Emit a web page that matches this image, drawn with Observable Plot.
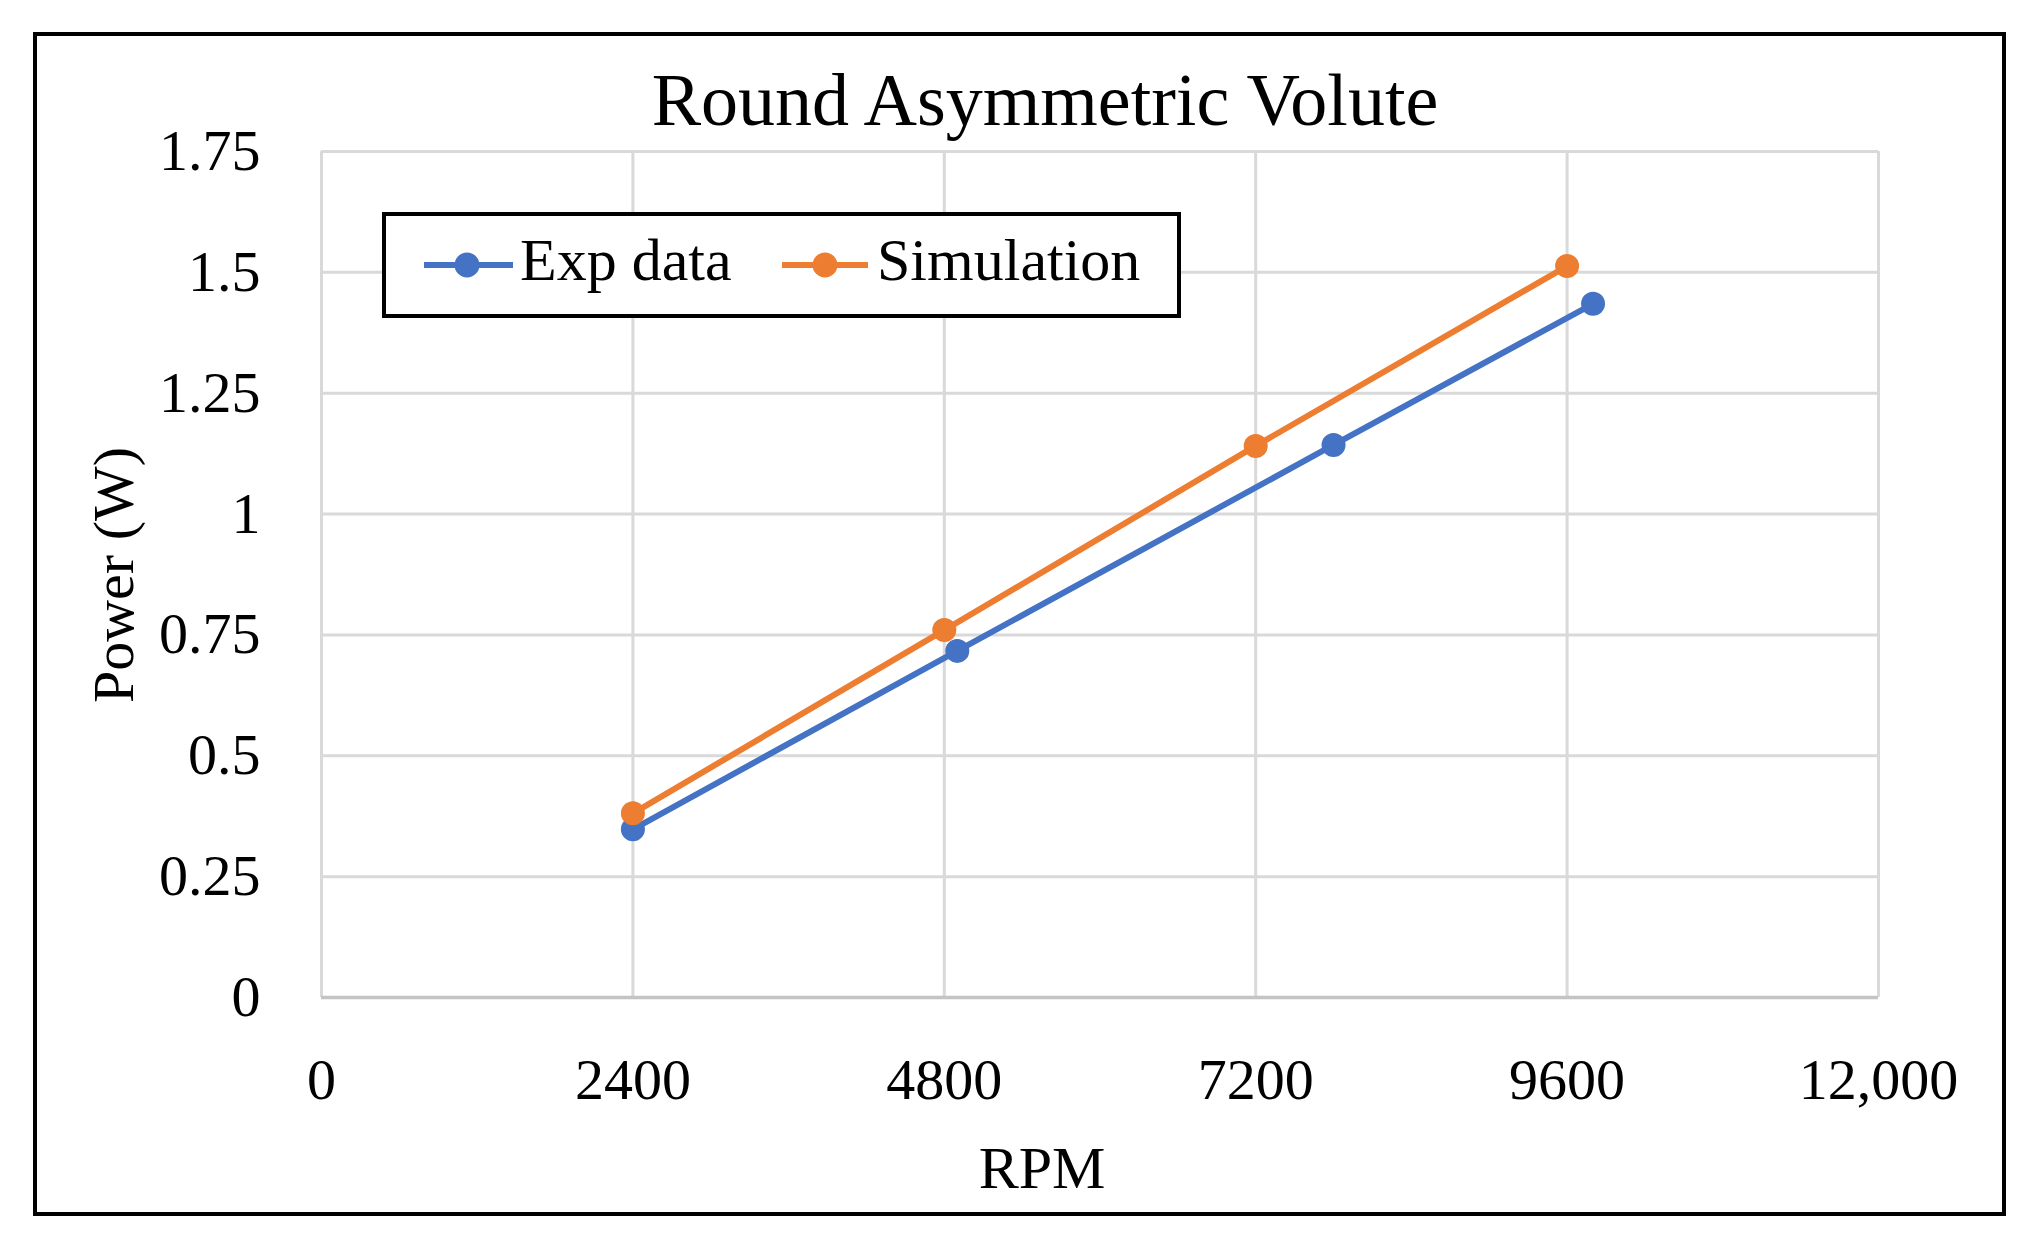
<!DOCTYPE html>
<html>
<head>
<meta charset="utf-8">
<script src="https://cdn.jsdelivr.net/npm/d3@7"></script>
<script src="https://cdn.jsdelivr.net/npm/@observablehq/plot@0.6"></script>
<style>
  html, body { margin: 0; padding: 0; background: #fff; }
  #wrap { position: relative; width: 2035px; height: 1249px; overflow: hidden; background: #fff; }
  #wrap svg { position: absolute; left: 0; top: 0; }
  .txt { position: absolute; font-family: "Liberation Serif", serif; color: #000; line-height: 1; white-space: nowrap; }
  #frame { position: absolute; left: 33px; top: 32px; width: 1973px; height: 1184px; border: 4px solid #000; box-sizing: border-box; }
  #legend { position: absolute; left: 382px; top: 212px; width: 799px; height: 106px; border: 4px solid #000; box-sizing: border-box; background: #fff; }
  .sw { position: absolute; }
</style>
</head>
<body>
<div id="wrap">
  <div id="frame"></div>
</div>
<script>
// ---- data ----
const xTicks = [0, 2400, 4800, 7200, 9600, 12000];
const xTickLabels = ["0", "2400", "4800", "7200", "9600", "12,000"];
const yTicks = [0, 0.25, 0.5, 0.75, 1, 1.25, 1.5, 1.75];
const yTickLabels = ["0", "0.25", "0.5", "0.75", "1", "1.25", "1.5", "1.75"];
const seriesNames = ["Exp data", "Simulation"];
const seriesColors = ["#4472C4", "#ED7D31"];
const expRpm = [2400, 4900, 7800, 9800];
const expPower = [0.348, 0.717, 1.143, 1.435];
const simRpm = [2400, 4800, 7200, 9600];
const simPower = [0.381, 0.760, 1.141, 1.513];
const titleText = "Round Asymmetric Volute";
const xLabel = "RPM";
const yLabel = "Power (W)";

const rows = [
  ...expRpm.map((r, i) => ({series: seriesNames[0], rpm: r, power: expPower[i]})),
  ...simRpm.map((r, i) => ({series: seriesNames[1], rpm: r, power: simPower[i]}))
];

const font = "'Liberation Serif', serif";
const chart = Plot.plot({
  width: 2035,
  height: 1249,
  marginLeft: 321,
  marginRight: 157,
  marginTop: 151,
  marginBottom: 252,
  style: {fontFamily: font, fontSize: "58px", color: "#000", background: "transparent", overflow: "visible"},
  x: {domain: [0, 12000]},
  y: {domain: [0, 1.75]},
  color: {domain: seriesNames, range: seriesColors},
  marks: [
    Plot.gridX(xTicks, {stroke: "#d9d9d9", strokeWidth: 3, strokeOpacity: 1}),
    Plot.gridY(yTicks, {stroke: "#d9d9d9", strokeWidth: 3, strokeOpacity: 1}),
    Plot.ruleY([0], {stroke: "#c4c4c4", strokeWidth: 3.5}),
    Plot.axisX({ticks: xTicks, tickFormat: d => xTickLabels[xTicks.indexOf(d)], tickSize: 0, tickPadding: 60, label: null, fontSize: 58, fill: "#000"}),
    Plot.axisY({ticks: yTicks, tickFormat: d => yTickLabels[yTicks.indexOf(d)], tickSize: 0, tickPadding: 61, label: null, fontSize: 58, fill: "#000"}),
    Plot.line(rows, {x: "rpm", y: "power", z: "series", stroke: "series", strokeWidth: 6}),
    Plot.dot(rows, {x: "rpm", y: "power", fill: "series", r: 12})
  ]
});

const wrap = document.getElementById("wrap");
wrap.insertBefore(chart, wrap.firstChild);

function addText(text, size, left, baseline, opts = {}) {
  const d = document.createElement("div");
  d.className = "txt";
  d.textContent = text;
  d.style.fontSize = size + "px";
  d.style.top = (baseline - 0.8375 * size) + "px";
  if (opts.center) {
    d.style.left = (left - 1000) + "px";
    d.style.width = "2000px";
    d.style.textAlign = "center";
  } else {
    d.style.left = left + "px";
  }
  wrap.appendChild(d);
  return d;
}

// title
addText(titleText, 74, 1045, 125, {center: true});
// x label
addText(xLabel, 60, 1042, 1188, {center: true});
// y label (rotated)
const yl = document.createElement("div");
yl.className = "txt";
yl.textContent = yLabel;
yl.style.fontSize = "58px";
yl.style.left = "114px";
yl.style.top = "575px";
yl.style.transform = "translate(-50%, -50%) rotate(-90deg)";
wrap.appendChild(yl);

// legend
const lg = document.createElement("div");
lg.id = "legend";
wrap.appendChild(lg);
const ns = "http://www.w3.org/2000/svg";
function swatch(left, cx, right, cy, color) {
  const s = document.createElementNS(ns, "svg");
  s.setAttribute("class", "sw");
  const w = right - left;
  s.setAttribute("width", w);
  s.setAttribute("height", 30);
  s.style.left = left + "px";
  s.style.top = (cy - 15) + "px";
  const l = document.createElementNS(ns, "line");
  l.setAttribute("x1", 0); l.setAttribute("x2", w);
  l.setAttribute("y1", 15); l.setAttribute("y2", 15);
  l.setAttribute("stroke", color); l.setAttribute("stroke-width", 6);
  s.appendChild(l);
  const c = document.createElementNS(ns, "circle");
  c.setAttribute("cx", cx - left); c.setAttribute("cy", 15); c.setAttribute("r", 12.5);
  c.setAttribute("fill", color);
  s.appendChild(c);
  wrap.appendChild(s);
}
swatch(424, 467, 513, 265, seriesColors[0]);
addText(seriesNames[0], 60, 520, 280);
swatch(782, 825, 868, 265, seriesColors[1]);
addText(seriesNames[1], 60, 877, 280);
</script>
</body>
</html>
